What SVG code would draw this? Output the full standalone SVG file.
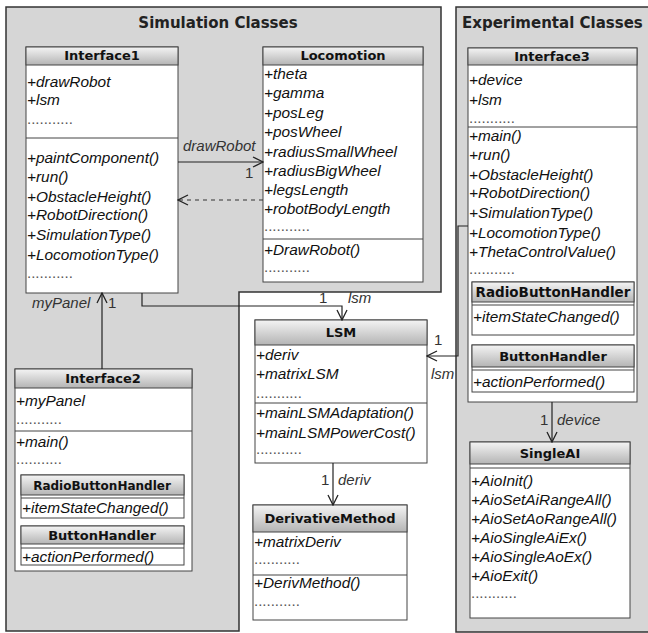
<svg xmlns="http://www.w3.org/2000/svg" width="648" height="633" viewBox="0 0 648 633">
<defs>
<linearGradient id="hg" x1="0" y1="0" x2="0" y2="1">
<stop offset="0" stop-color="#f4f4f4"/>
<stop offset="1" stop-color="#b4b4b4"/>
</linearGradient>
<marker id="open" viewBox="0 0 12 12" refX="11" refY="6" markerWidth="12" markerHeight="12" markerUnits="userSpaceOnUse" orient="auto">
<polyline points="1,1 11,6 1,11" fill="none" stroke="#222" stroke-width="1.3"/>
</marker>
</defs>
<style>
.pkg{fill:#d6d6d6;stroke:#333;stroke-width:1.5}
.ptitle{font-family:"DejaVu Sans",sans-serif;font-weight:bold;font-size:15px;fill:#222}
.box{fill:#fff;stroke:#444;stroke-width:1}
.hdr{fill:url(#hg);stroke:#444;stroke-width:1}
.sep{stroke:#444;stroke-width:1}
.hname{font-family:"DejaVu Sans",sans-serif;font-weight:bold;font-size:13px;fill:#111;text-anchor:middle}
.m{font-family:"Liberation Sans",Arial,sans-serif;font-style:italic;font-size:15.4px;fill:#111}
.dots{font-family:"Liberation Sans",Arial,sans-serif;font-size:15px;fill:#555}
.lbl{font-family:"Liberation Sans",Arial,sans-serif;font-style:italic;font-size:15px;fill:#333}
.num{font-family:"Liberation Sans",Arial,sans-serif;font-size:15px;fill:#333}
.c{fill:none;stroke:#222;stroke-width:1.2}
.d{fill:none;stroke:#333;stroke-width:1.2;stroke-dasharray:4,4}
</style>
<rect width="648" height="633" fill="#fff"/>
<g id="pkg-simulation">
<path class="pkg" d="M6,7 H441 V292 H239 V631 H6 Z"/>
<text class="ptitle" x="218" y="28" text-anchor="middle">Simulation Classes</text>
</g>
<g id="pkg-experimental">
<rect class="pkg" x="456" y="7" width="210" height="625"/>
<text class="ptitle" x="462" y="28">Experimental Classes</text>
</g>
<g id="Interface1">
<rect class="box" x="26" y="47" width="152" height="246"/>
<rect class="hdr" x="26" y="47" width="152" height="18"/>
<text class="hname" x="102" y="60">Interface1</text>
<text class="m" x="27" y="87">+drawRobot</text>
<text class="m" x="27" y="105">+lsm</text>
<text class="dots" x="27" y="124">...........</text>
<line class="sep" x1="26" y1="138" x2="178" y2="138"/>
<text class="m" x="27" y="163">+paintComponent()</text>
<text class="m" x="27" y="182">+run()</text>
<text class="m" x="27" y="202">+ObstacleHeight()</text>
<text class="m" x="27" y="220">+RobotDirection()</text>
<text class="m" x="27" y="240">+SimulationType()</text>
<text class="m" x="27" y="260">+LocomotionType()</text>
<text class="dots" x="27" y="278">...........</text>
</g>
<g id="Locomotion">
<rect class="box" x="263" y="47" width="160" height="235"/>
<rect class="hdr" x="263" y="47" width="160" height="18"/>
<text class="hname" x="343" y="60">Locomotion</text>
<text class="m" x="264" y="79">+theta</text>
<text class="m" x="264" y="98">+gamma</text>
<text class="m" x="264" y="118">+posLeg</text>
<text class="m" x="264" y="137">+posWheel</text>
<text class="m" x="264" y="157">+radiusSmallWheel</text>
<text class="m" x="264" y="176">+radiusBigWheel</text>
<text class="m" x="264" y="195">+legsLength</text>
<text class="m" x="264" y="214">+robotBodyLength</text>
<text class="dots" x="264" y="231">...........</text>
<line class="sep" x1="263" y1="239" x2="423" y2="239"/>
<text class="m" x="264" y="255">+DrawRobot()</text>
<text class="dots" x="264" y="272">...........</text>
</g>
<g id="Interface2">
<rect class="box" x="15" y="369" width="177" height="202"/>
<rect class="hdr" x="15" y="369" width="177" height="19"/>
<text class="hname" x="103" y="383">Interface2</text>
<text class="m" x="16" y="406">+myPanel</text>
<text class="dots" x="16" y="424">...........</text>
<line class="sep" x1="15" y1="431" x2="192" y2="431"/>
<text class="m" x="16" y="447">+main()</text>
<text class="dots" x="16" y="464">...........</text>
<g id="Interface2-RadioButtonHandler">
<rect class="box" x="21" y="475" width="163" height="43"/>
<rect class="hdr" x="21" y="475" width="163" height="20"/>
<line class="sep" x1="21" y1="498" x2="184" y2="498"/>
<text class="hname" x="102" y="490" style="font-size:12px">RadioButtonHandler</text>
<text class="m" x="22" y="513">+itemStateChanged()</text>
</g>
<g id="Interface2-ButtonHandler">
<rect class="box" x="21" y="526" width="163" height="39"/>
<rect class="hdr" x="21" y="526" width="163" height="18"/>
<line class="sep" x1="21" y1="548" x2="184" y2="548"/>
<text class="hname" x="102" y="540">ButtonHandler</text>
<text class="m" x="22" y="562">+actionPerformed()</text>
</g>
</g>
<g id="LSM">
<rect class="box" x="255" y="320" width="172" height="143"/>
<rect class="hdr" x="255" y="320" width="172" height="25"/>
<text class="hname" x="341" y="337">LSM</text>
<text class="m" x="256" y="360">+deriv</text>
<text class="m" x="256" y="379">+matrixLSM</text>
<text class="dots" x="256" y="398">...........</text>
<line class="sep" x1="255" y1="403" x2="427" y2="403"/>
<text class="m" x="256" y="418">+mainLSMAdaptation()</text>
<text class="m" x="256" y="438">+mainLSMPowerCost()</text>
<text class="dots" x="256" y="454">...........</text>
</g>
<g id="DerivativeMethod">
<rect class="box" x="253" y="505" width="154" height="115"/>
<rect class="hdr" x="253" y="505" width="154" height="27"/>
<text class="hname" x="330" y="523">DerivativeMethod</text>
<text class="m" x="254" y="547">+matrixDeriv</text>
<text class="dots" x="254" y="564">...........</text>
<line class="sep" x1="253" y1="575" x2="407" y2="575"/>
<text class="m" x="254" y="588">+DerivMethod()</text>
<text class="dots" x="254" y="606">...........</text>
</g>
<g id="Interface3">
<rect class="box" x="468" y="48" width="169" height="354"/>
<rect class="hdr" x="468" y="48" width="169" height="17"/>
<text class="hname" x="552" y="61">Interface3</text>
<text class="m" x="469" y="85">+device</text>
<text class="m" x="469" y="105">+lsm</text>
<text class="dots" x="469" y="123">...........</text>
<line class="sep" x1="468" y1="127" x2="637" y2="127"/>
<text class="m" x="469" y="141">+main()</text>
<text class="m" x="469" y="160">+run()</text>
<text class="m" x="469" y="180">+ObstacleHeight()</text>
<text class="m" x="469" y="198">+RobotDirection()</text>
<text class="m" x="469" y="218">+SimulationType()</text>
<text class="m" x="469" y="238">+LocomotionType()</text>
<text class="m" x="469" y="257">+ThetaControlValue()</text>
<text class="dots" x="469" y="274">...........</text>
<g id="Interface3-RadioButtonHandler">
<rect class="box" x="472" y="282" width="162" height="53"/>
<rect class="hdr" x="472" y="282" width="162" height="20"/>
<line class="sep" x1="472" y1="305" x2="634" y2="305"/>
<text class="hname" x="553" y="297" style="font-size:13.5px">RadioButtonHandler</text>
<text class="m" x="473" y="322">+itemStateChanged()</text>
</g>
<g id="Interface3-ButtonHandler">
<rect class="box" x="472" y="345" width="162" height="47"/>
<rect class="hdr" x="472" y="345" width="162" height="22"/>
<line class="sep" x1="472" y1="370" x2="634" y2="370"/>
<text class="hname" x="553" y="361">ButtonHandler</text>
<text class="m" x="473" y="387">+actionPerformed()</text>
</g>
</g>
<g id="SingleAI">
<rect class="box" x="470" y="442" width="160" height="176"/>
<rect class="hdr" x="470" y="442" width="160" height="22"/>
<line class="sep" x1="470" y1="468" x2="630" y2="468"/>
<text class="hname" x="550" y="458">SingleAI</text>
<text class="m" x="471" y="486">+AioInit()</text>
<text class="m" x="471" y="505">+AioSetAiRangeAll()</text>
<text class="m" x="471" y="524">+AioSetAoRangeAll()</text>
<text class="m" x="471" y="543">+AioSingleAiEx()</text>
<text class="m" x="471" y="562">+AioSingleAoEx()</text>
<text class="m" x="471" y="581">+AioExit()</text>
<text class="dots" x="471" y="598">...........</text>
</g>
<g id="connectors">
<line class="c" x1="178" y1="162" x2="263" y2="162" marker-end="url(#open)"/>
<text class="lbl" x="183" y="151">drawRobot</text>
<text class="num" x="245" y="178">1</text>
<line class="d" x1="263" y1="200" x2="178" y2="200" marker-end="url(#open)"/>
<polyline class="c" points="142,293 142,306 342,306 342,320" marker-end="url(#open)"/>
<text class="num" x="319" y="303">1</text>
<text class="lbl" x="348" y="303">lsm</text>
<line class="c" x1="102" y1="369" x2="102" y2="293" marker-end="url(#open)"/>
<text class="lbl" x="32" y="308">myPanel</text>
<text class="num" x="108" y="308">1</text>
<polyline class="c" points="468,226 458,226 458,356 427,356" marker-end="url(#open)"/>
<text class="num" x="434" y="345">1</text>
<text class="lbl" x="431" y="379">lsm</text>
<line class="c" x1="333" y1="463" x2="333" y2="505" marker-end="url(#open)"/>
<text class="num" x="321" y="485">1</text>
<text class="lbl" x="338" y="485">deriv</text>
<line class="c" x1="552" y1="402" x2="552" y2="442" marker-end="url(#open)"/>
<text class="num" x="540" y="425">1</text>
<text class="lbl" x="557" y="425">device</text>
</g>
</svg>
